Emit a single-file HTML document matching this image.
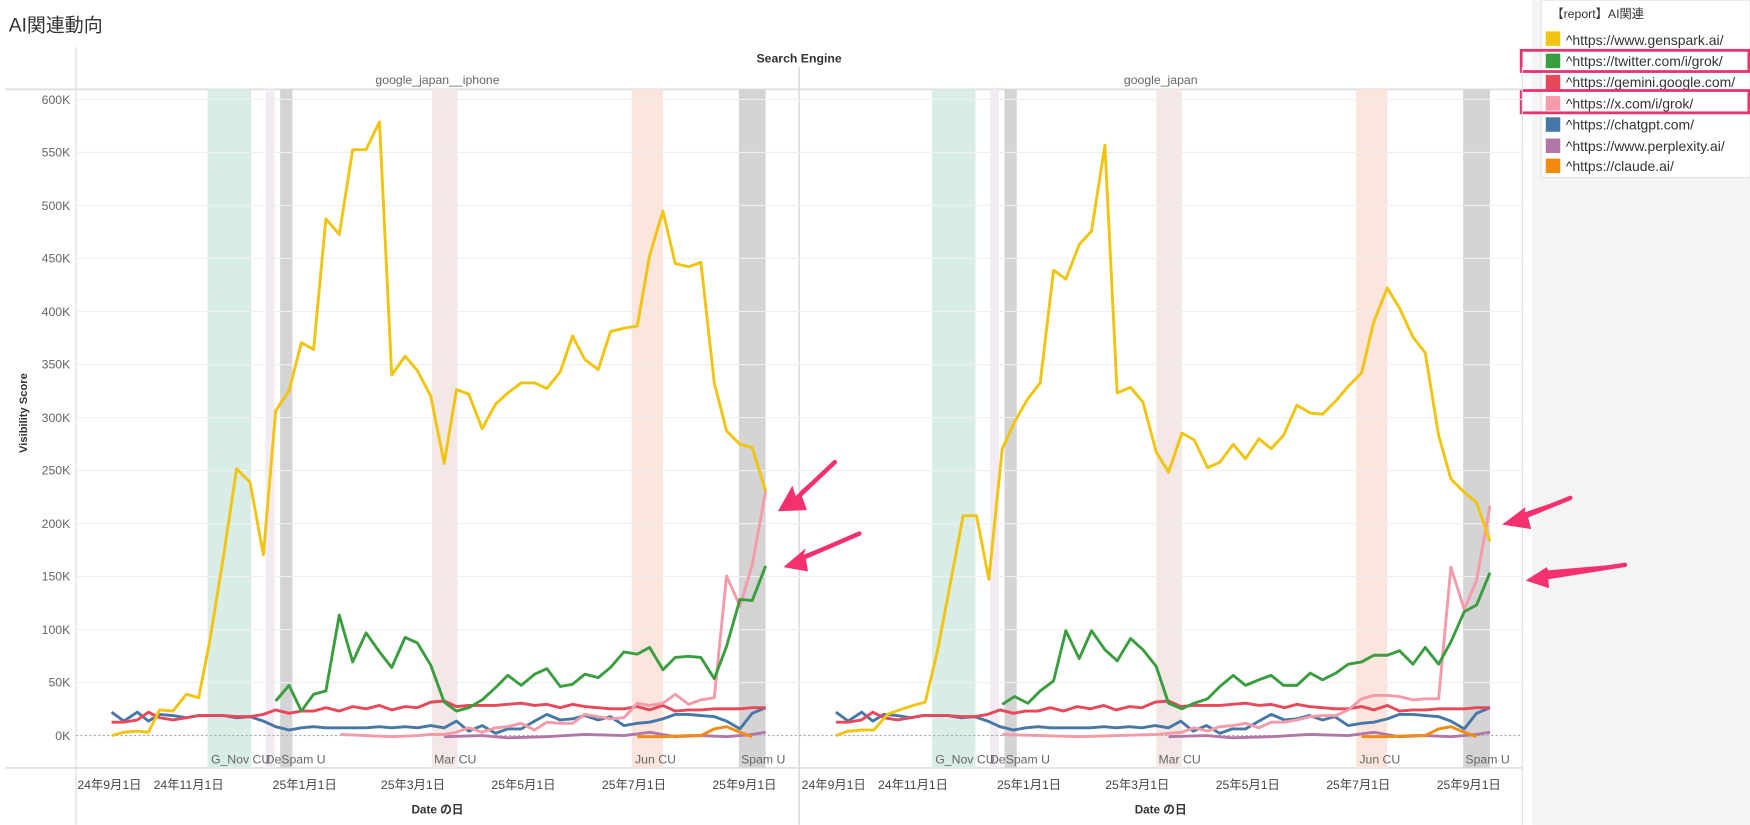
<!DOCTYPE html>
<html><head><meta charset="utf-8"><style>
html,body{margin:0;padding:0;background:#fff;width:1750px;height:825px;overflow:hidden}
svg{display:block}
text{font-family:"Liberation Sans","Noto Sans CJK JP",sans-serif}
</style></head><body>
<svg width="1750" height="825" viewBox="0 0 1568 739" xmlns="http://www.w3.org/2000/svg">
<rect width="1568" height="739" fill="#fff"/>
<text x="8" y="28" font-size="17" fill="#333">AI関連動向</text>
<!-- legend panel -->
<rect x="1373" y="0" width="195" height="739" fill="#f4f4f4"/>
<rect x="1381" y="0" width="187" height="159" fill="#fff" stroke="#e2e2e2"/>
<text x="1390" y="16" font-size="11" fill="#333">【report】AI関連</text>
<g font-size="12.5" fill="#333">
<rect x="1385" y="28" width="13" height="13" fill="#f1c40f"/><text x="1403" y="40">^https://www.genspark.ai/</text>
<rect x="1385" y="48" width="13" height="13" fill="#3a9d3f"/><text x="1403" y="59">^https://twitter.com/i/grok/</text>
<rect x="1385" y="67" width="13" height="13" fill="#e8485a"/><text x="1403" y="78">^https://gemini.google.com/</text>
<rect x="1385" y="86" width="13" height="13" fill="#f59aa8"/><text x="1403" y="97">^https://x.com/i/grok/</text>
<rect x="1385" y="105" width="13" height="13" fill="#4577a7"/><text x="1403" y="116">^https://chatgpt.com/</text>
<rect x="1385" y="124" width="13" height="13" fill="#b277a8"/><text x="1403" y="135">^https://www.perplexity.ai/</text>
<rect x="1385" y="142" width="13" height="13" fill="#f58a10"/><text x="1403" y="153">^https://claude.ai/</text>
</g>
<rect x="1363" y="45" width="204" height="19" fill="none" stroke="#e8336b" stroke-width="2.5"/>
<rect x="1363" y="81" width="204" height="20" fill="none" stroke="#e8336b" stroke-width="2.5"/>
<!-- header -->
<text x="716" y="56" font-size="11" font-weight="bold" fill="#333" text-anchor="middle">Search Engine</text>
<text x="392" y="75" font-size="11" fill="#666" text-anchor="middle">google_japan__iphone</text>
<text x="1040" y="75" font-size="11" fill="#666" text-anchor="middle">google_japan</text>
<line x1="68" y1="42" x2="68" y2="739" stroke="#ddd"/>
<line x1="716" y1="60" x2="716" y2="739" stroke="#ccc"/>
<line x1="1364" y1="60" x2="1364" y2="739" stroke="#ddd"/>
<line x1="5" y1="80" x2="1364" y2="80" stroke="#ddd" stroke-width="1.5"/>
<line x1="5" y1="688" x2="1364" y2="688" stroke="#ddd" stroke-width="1.5"/>
<!-- bands -->
<g>
<rect x="186" y="80" width="39" height="608" fill="#d8ece8"/>
<rect x="238" y="80" width="8" height="608" fill="#f3eaf3"/>
<rect x="251" y="80" width="11" height="608" fill="#d4d4d4"/>
<rect x="387" y="80" width="23" height="608" fill="#f3e8e6"/>
<rect x="566" y="80" width="28" height="608" fill="#fbe5dc"/>
<rect x="662" y="80" width="24" height="608" fill="#d4d4d4"/>
<rect x="835" y="80" width="39" height="608" fill="#d8ece8"/>
<rect x="887" y="80" width="8" height="608" fill="#f3eaf3"/>
<rect x="900" y="80" width="11" height="608" fill="#d4d4d4"/>
<rect x="1036" y="80" width="23" height="608" fill="#f3e8e6"/>
<rect x="1215" y="80" width="28" height="608" fill="#fbe5dc"/>
<rect x="1311" y="80" width="24" height="608" fill="#d4d4d4"/>
</g>
<!-- grid -->
<g stroke="#efefef" stroke-width="1">
<line x1="68" x2="1364" y1="89" y2="89"/><line x1="68" x2="1364" y1="136.5" y2="136.5"/>
<line x1="68" x2="1364" y1="184" y2="184"/><line x1="68" x2="1364" y1="231.5" y2="231.5"/>
<line x1="68" x2="1364" y1="279" y2="279"/><line x1="68" x2="1364" y1="326.5" y2="326.5"/>
<line x1="68" x2="1364" y1="374" y2="374"/><line x1="68" x2="1364" y1="421.5" y2="421.5"/>
<line x1="68" x2="1364" y1="469" y2="469"/><line x1="68" x2="1364" y1="516.5" y2="516.5"/>
<line x1="68" x2="1364" y1="564" y2="564"/><line x1="68" x2="1364" y1="611.5" y2="611.5"/>
</g>
<line x1="68" x2="1364" y1="659" y2="659" stroke="#aaa" stroke-dasharray="2,2"/>
<g font-size="11" fill="#666" text-anchor="end">
<text x="63" y="93">600K</text><text x="63" y="140">550K</text><text x="63" y="188">500K</text>
<text x="63" y="235">450K</text><text x="63" y="283">400K</text><text x="63" y="330">350K</text>
<text x="63" y="378">300K</text><text x="63" y="425">250K</text><text x="63" y="473">200K</text>
<text x="63" y="520">150K</text><text x="63" y="568">100K</text><text x="63" y="615">50K</text>
<text x="63" y="663">0K</text>
</g>
<text transform="translate(24,370) rotate(-90)" font-size="10" font-weight="bold" fill="#333" text-anchor="middle">Visibility Score</text>
<!-- band labels -->
<g font-size="11" fill="#666">
<text x="189" y="684">G_Nov CU</text><text x="238" y="684">DeSpam U</text><text x="389" y="684">Mar CU</text><text x="569" y="684">Jun CU</text><text x="664" y="684">Spam U</text>
<text x="838" y="684">G_Nov CU</text><text x="887" y="684">DeSpam U</text><text x="1038" y="684">Mar CU</text><text x="1218" y="684">Jun CU</text><text x="1313" y="684">Spam U</text>
</g>
<!-- x labels -->
<g font-size="11" fill="#444" text-anchor="middle">
<text x="98" y="707">24年9月1日</text><text x="169" y="707">24年11月1日</text><text x="273" y="707">25年1月1日</text><text x="370" y="707">25年3月1日</text><text x="469" y="707">25年5月1日</text><text x="568" y="707">25年7月1日</text><text x="667" y="707">25年9月1日</text>
<text x="747" y="707">24年9月1日</text><text x="818" y="707">24年11月1日</text><text x="922" y="707">25年1月1日</text><text x="1019" y="707">25年3月1日</text><text x="1118" y="707">25年5月1日</text><text x="1217" y="707">25年7月1日</text><text x="1316" y="707">25年9月1日</text>
</g>
<text x="392" y="729" font-size="10.5" font-weight="bold" fill="#333" text-anchor="middle">Date の日</text>
<text x="1040" y="729" font-size="10.5" font-weight="bold" fill="#333" text-anchor="middle">Date の日</text>
<!-- series -->
<g fill="none" stroke-width="2.6" stroke-linejoin="round">
<g id="low">
<polyline stroke="#b277a8" points="398,660 432,659 455,661 490,660 524,658 559,659 582,656 605,660 628,659 651,660 674,658 686,656"/>
<polyline stroke="#f58a10" points="571,660 594,660 617,659 628,659 640,653 651,651 663,656 674,660"/>
<polyline stroke="#4577a7" points="100,638 111,646 123,638 133,646 143,640 155,641 167,643 178,641 188,641 200,641 212,643 224,642 236,646 247,651 259,654 270,652 281,651 292,652 304,652 316,652 328,652 340,651 351,652 363,651 374,652 386,650 398,652 409,646 420,655 432,650 444,657 455,653 467,653 479,646 490,640 502,645 513,644 524,641 536,645 547,642 559,650 571,648 582,647 594,644 605,640 617,640 628,641 640,642 651,646 663,653 674,639 686,634"/>
<polyline stroke="#e8485a" points="100,647 111,647 123,645 133,638 143,643 155,645 167,643 178,641 188,641 200,641 212,642 224,642 236,640 247,636 259,639 270,637 281,637 292,634 304,637 316,633 328,635 340,632 351,636 363,633 374,634 386,629 398,628 409,633 420,632 432,632 444,632 455,631 467,630 479,632 490,631 502,634 513,631 524,633 536,634 547,635 559,635 571,633 582,636 594,632 605,637 617,636 628,636 640,635 651,635 663,635 674,634 686,634"/>
</g>
<use href="#low" transform="translate(649,0)"/>
<polyline stroke="#f59aa8" points="305,658 328,659 351,660 374,659 386,658 398,658 409,656 420,652 432,656 444,652 455,651 467,648 479,654 490,647 502,648 513,648 524,640 536,642 547,644 559,643 571,630 582,632 594,630 605,622 617,631 628,627 640,625 651,516 663,543 674,506 686,440"/>
<polyline stroke="#3a9d3f" points="247,628 259,614 270,637 281,622 292,619 304,551 316,593 328,567 340,584 351,598 363,571 374,576 386,596 398,629 409,637 420,634 432,627 444,616 455,605 467,614 479,604 490,599 502,615 513,613 524,604 536,607 547,598 559,584 571,586 582,580 594,600 605,589 617,588 628,589 640,608 651,579 663,537 674,538 686,507"/>
<polyline stroke="#f1c40f" points="100,659 111,656 123,655 133,656 143,636 155,637 167,622 178,625 188,574 200,500 212,420 224,432 236,497 247,368 259,350 270,307 281,313 292,196 304,210 316,134 328,134 340,109 351,336 363,319 374,332 386,355 398,415 409,349 420,353 432,384 444,362 455,352 467,343 479,343 490,348 502,333 513,301 524,322 536,331 547,297 559,294 571,292 582,229 594,189 605,236 617,239 628,235 640,343 651,386 663,398 674,401 686,440"/>
<polyline stroke="#f59aa8" points="898,658 932,659 967,660 1001,659 1036,658 1059,656 1070,652 1082,655 1093,651 1105,650 1116,648 1128,652 1139,647 1150,647 1162,645 1174,642 1185,641 1197,641 1208,636 1220,626 1231,623 1243,623 1254,624 1266,627 1277,626 1289,626 1300,508 1312,546 1323,520 1335,453"/>
<polyline stroke="#3a9d3f" points="898,631 909,624 921,630 932,619 944,610 955,565 967,590 978,565 990,582 1001,592 1013,572 1024,582 1036,597 1047,630 1059,635 1070,630 1082,626 1093,615 1105,605 1116,614 1128,609 1139,605 1150,614 1162,614 1174,603 1185,609 1197,603 1208,595 1220,593 1231,587 1243,587 1254,583 1266,595 1277,580 1289,595 1300,575 1312,548 1323,542 1335,513"/>
<polyline stroke="#f1c40f" points="749,659 760,655 772,654 783,654 795,640 806,636 818,632 829,629 840,583 852,520 863,462 875,462 886,519 898,402 909,378 921,357 932,343 944,242 955,250 967,219 978,207 990,130 1001,352 1013,347 1024,360 1036,405 1047,423 1059,388 1070,394 1082,419 1093,414 1105,398 1116,411 1128,393 1139,402 1150,390 1162,363 1174,370 1185,371 1197,359 1208,346 1220,334 1231,288 1243,258 1254,276 1266,302 1277,316 1289,390 1300,429 1312,441 1323,450 1335,485"/>
</g>
<!-- arrows -->
<g fill="#f5306e">
<polygon points="748,413 717,440 723,457 697,458 710,435 714,448"/>
<polygon points="770,477 722,500 724,512 702,508 722,491 720,497"/>
<polygon points="1407,445 1369,463 1372,474 1346,470 1367,454 1366,459"/>
<polygon points="1456,505 1387,516 1388,527 1367,520 1386,508 1387,511"/>
</g>
<g stroke="#f5306e" stroke-width="4" stroke-linecap="round">
<line x1="748" y1="414" x2="712" y2="448"/><line x1="770" y1="478" x2="712" y2="503"/>
<line x1="1407" y1="446" x2="1358" y2="466"/><line x1="1456" y1="506" x2="1380" y2="518"/>
</g>
</svg>
</body></html>
